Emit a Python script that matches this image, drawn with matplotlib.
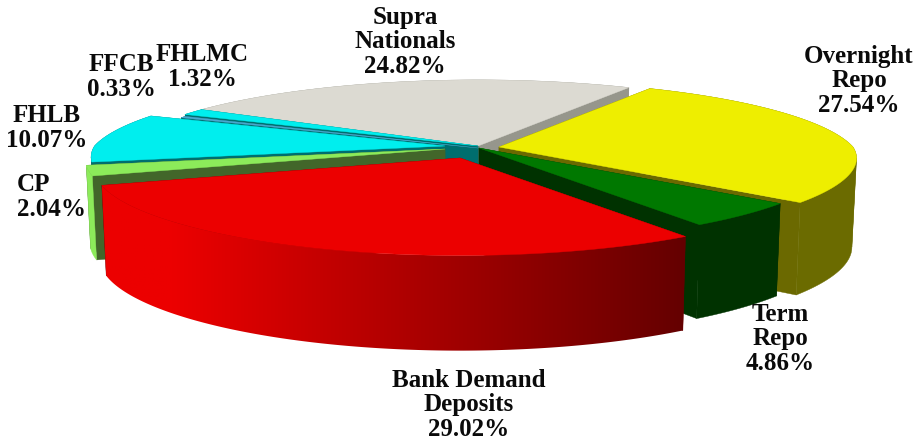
import numpy as np
import matplotlib
matplotlib.use("Agg")
import matplotlib.pyplot as plt
from matplotlib.colors import LinearSegmentedColormap
from matplotlib.patches import Polygon

# Portfolio shares, clockwise from the starting angle
categories = ["Overnight\nRepo", "Term\nRepo", "Bank Demand\nDeposits", "CP", "FHLB",
              "FFCB", "FHLMC", "Supra\nNationals"]
shares = [27.54, 4.86, 29.02, 2.04, 10.07, 0.33, 1.32, 24.82]

# Appearance of each slice: top face, outer wall, cut wall
top_colors = ["#eeee00", "#007800", "#ec0000", "#8ceb5a", "#00eeee", "#4aa8d0", "#00eeee", "#dcdad2"]
wall_colors = ["#6b6b00", "#003200", "#ec0000", "#8ceb5a", "#006e6e", "#006e6e", "#006e6e", "#96968c"]
cut_colors = ["#6b6900", "#003200", "#6a0000", "#42662a", "#006e6e", "#006e6e", "#006e6e", "#96968c"]

# Hub position of each exploded slice, its radius factor and its wall depth factor
hubs = [(499, 147), (479, 148), (460, 158), (445, 149), (445, 146), (478, 148), (478, 146), (478, 146)]
radius_factor = [1.0, 1.0, 1.02, 1.005, 0.99, 1.0, 1.0, 1.0]
depth_factor = [1.0, 1.0, 1.0, 0.93, 1.0, 1.0, 1.0, 1.0]

START_ANGLE = 30.0
RX, RY, HEIGHT = 354.0, 78.0, 88.0
KX_BACK, KX_FRONT, KY = 0.20, 0.14, 0.18
CENTER_X = 470.0

fig = plt.figure(figsize=(9.15, 4.41), dpi=100)
ax = fig.add_axes([0, 0, 1, 1])
ax.set_xlim(0, 915)
ax.set_ylim(441, 0)
ax.axis("off")


def project(hub, theta, r, z):
    """Map a point of a slice (angle in degrees, radius 0..1, depth 0..1) to the canvas."""
    t = np.radians(theta)
    u, v = r * np.sin(t), r * np.cos(t)
    kx = KX_BACK if v > 0 else KX_FRONT
    x = hub[0] + RX * u / (1 + kx * v)
    y = hub[1] - RY * v / (1 + KY * v) + HEIGHT * z * (1 - 0.08 * v)
    x = CENTER_X + (x - CENTER_X) * (1 - 0.012 * z)
    return x, y


def wall_pieces(hub, arc, rf, df):
    """Outer wall outlines, split where the rim turns back so no outline crosses itself."""
    xs = np.array([project(hub, b, rf, 0)[0] for b in arc])
    turns = [k for k in (int(xs.argmax()), int(xs.argmin())) if 0 < k < len(arc) - 1]
    cuts = [0] + sorted(set(turns)) + [len(arc) - 1]
    pieces = []
    for k0, k1 in zip(cuts[:-1], cuts[1:]):
        part = arc[k0:k1 + 1]
        pieces.append([project(hub, b, rf, 0) for b in part] + [project(hub, b, rf, df) for b in part[::-1]])
    return pieces


bank_ramp = LinearSegmentedColormap.from_list(
    "bank_wall", [(0.0, "#ec0000"), (0.12, "#ec0000"), (1.0, "#640000")])

edges = START_ANGLE + np.concatenate([[0], np.cumsum(shares)]) * 3.6
order = [7, 6, 5, 4, 3, 0, 1, 2]
zorder = 1

for i in order:
    a0, a1 = edges[i], edges[i + 1]
    hub = hubs[i]
    rf = radius_factor[i]
    df = depth_factor[i]
    arc = np.linspace(a0, a1, max(int((a1 - a0) * 2), 4))

    # cut walls
    for a in (a0, a1):
        quad = [project(hub, a, 0, 0), project(hub, a, rf, 0),
                project(hub, a, rf, df), project(hub, a, 0, df)]
        ax.fill(*zip(*quad), color=cut_colors[i], lw=0.3, zorder=zorder)
    zorder += 1

    # outer wall
    if categories[i].startswith("Bank"):
        outline = [project(hub, b, rf, 0) for b in arc] + [project(hub, b, rf, df) for b in arc[::-1]]
        xs = [p[0] for p in outline]
        ys = [p[1] for p in outline]
        ramp = np.linspace(0, 1, 256)[None, :]
        img = ax.imshow(ramp, cmap=bank_ramp, vmin=0, vmax=1, aspect="auto", zorder=zorder,
                        extent=(min(xs), max(xs), max(ys), min(ys)))
        img.set_clip_path(Polygon(outline, transform=ax.transData))
    else:
        for piece in wall_pieces(hub, arc, rf, df):
            ax.fill(*zip(*piece), color=wall_colors[i], lw=0.3, zorder=zorder)
    zorder += 1

    # top face
    top = [project(hub, a0, 0, 0)] + [project(hub, b, rf, 0) for b in arc]
    ax.fill(*zip(*top), color=top_colors[i], lw=0.3, zorder=zorder)
    zorder += 1

ax.set_xlim(0, 915)
ax.set_ylim(441, 0)

# Labels
labels = [
    ("Overnight\nRepo\n27.54%", 859, 81, "center"),
    ("Term\nRepo\n4.86%", 780, 339, "center"),
    ("Bank Demand\nDeposits\n29.02%", 469, 405, "center"),
    ("CP\n2.04%", 17, 197, "left"),
    ("FHLB\n10.07%", 47, 128, "center"),
    ("FFCB\n0.33%", 121, 77, "center"),
    ("FHLMC\n1.32%", 202, 67, "center"),
    ("Supra\nNationals\n24.82%", 405, 42, "center"),
]
for text, x, y, ha in labels:
    ax.text(x, y, text, ha=ha, va="center", multialignment=ha, fontsize=18,
            family="Liberation Serif", fontweight="bold", color="#0a0a0a",
            linespacing=1.09, zorder=100)

fig.savefig("out.png", dpi=100, facecolor="white")
